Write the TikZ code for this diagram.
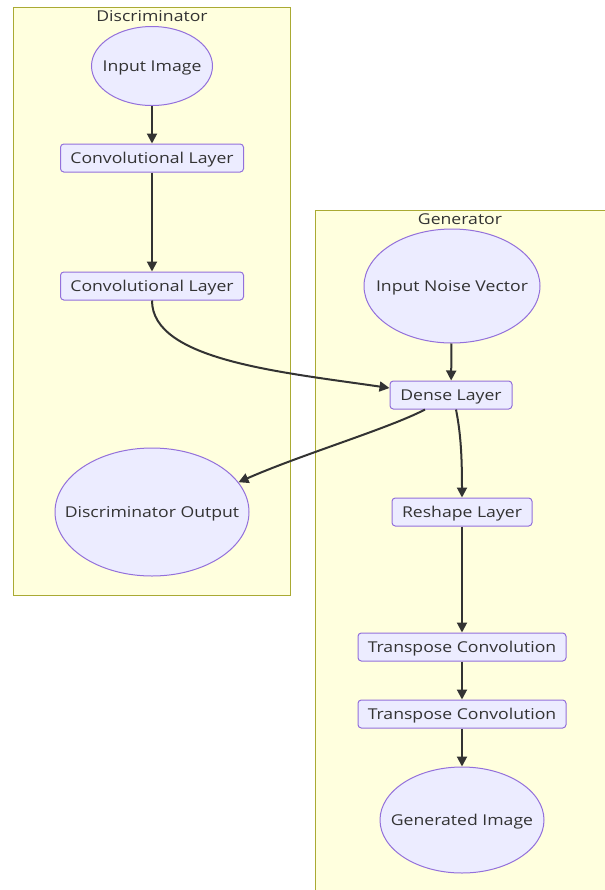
\documentclass[tikz,border=0pt]{standalone}
\usepackage{fontspec}
\setmainfont{Open Sans}[FakeStretch=1.18]
\usetikzlibrary{arrows.meta,shapes.geometric,calc}
\definecolor{clusterfill}{RGB}{255,255,222}
\definecolor{clusterline}{RGB}{170,170,51}
\definecolor{nodefill}{RGB}{236,236,255}
\definecolor{nodeline}{RGB}{147,112,219}
\definecolor{edgegray}{RGB}{51,51,51}
\definecolor{textgray}{RGB}{51,51,51}

\begin{document}
\begin{tikzpicture}[
  x=0.75pt, y=-0.75pt,
  font=\fontsize{11.2}{13}\selectfont\color{textgray},
  every label/.append style={text depth=0pt},
  cluster/.style={draw=clusterline, fill=clusterfill, line width=0.75pt},
  layer/.style={draw=nodeline, fill=nodefill, rounded corners=2.5pt, line width=0.75pt, minimum height=21pt, inner sep=2pt, text depth=0pt},
  blob/.style={draw=nodeline, fill=nodefill, ellipse, line width=0.75pt, inner sep=0pt},
  edge/.style={draw=edgegray, line width=1.5pt, -{Triangle[length=7.5pt,width=7.5pt]}}
]
\useasboundingbox[fill=white] (0,0) rectangle (605,890);
\clip (0,0) rectangle (605,890);
\draw[cluster] (13,7) rectangle (290,595);
\draw[cluster] (315,210) rectangle (640,920);
\node (dtitle) at (152,16) {Discriminator};
\node (gtitle) at (460,219) {Generator};

\node[blob, minimum width=90.75pt, minimum height=59.25pt, label=center:{Input Image}] (inimg) at (152,66) {};
\node[layer, minimum width=137.25pt] (conv1) at (152,158) {Convolutional Layer};
\node[layer, minimum width=137.25pt] (conv2) at (152,286) {Convolutional Layer};
\node[blob, minimum width=145.5pt, minimum height=96pt, label=center:{Discriminator Output}] (discout) at (152,512) {};

\node[blob, minimum width=132pt, minimum height=85.5pt, label=center:{Input Noise Vector}] (noise) at (452,286) {};
\node[layer, minimum width=91.5pt] (dense) at (451,395) {Dense Layer};
\node[layer, minimum width=105pt] (reshape) at (462,512) {Reshape Layer};
\node[layer, minimum width=156pt] (tconv1) at (462,647) {Transpose Convolution};
\node[layer, minimum width=156pt] (tconv2) at (462,714) {Transpose Convolution};
\node[blob, minimum width=123pt, minimum height=79.5pt, label=center:{Generated Image}] (genimg) at (462,820) {};

\foreach \a/\b in {inimg/conv1, conv1/conv2, noise/dense, reshape/tconv1, tconv1/tconv2, tconv2/genimg}
  \draw[edge] (\a) -- (\b);
\draw[edge] (conv2.south) .. controls (152,360) and (280,372) .. ($(dense.west)+(0,-7)$);
\draw[edge] ($(dense.south)+(-26,0)$) .. controls (390,428) and (300,455) .. (discout.19);
\draw[edge] ($(dense.south)+(5,0)$) .. controls (460,430) and (462,450) .. (reshape.north);
\end{tikzpicture}
\end{document}
